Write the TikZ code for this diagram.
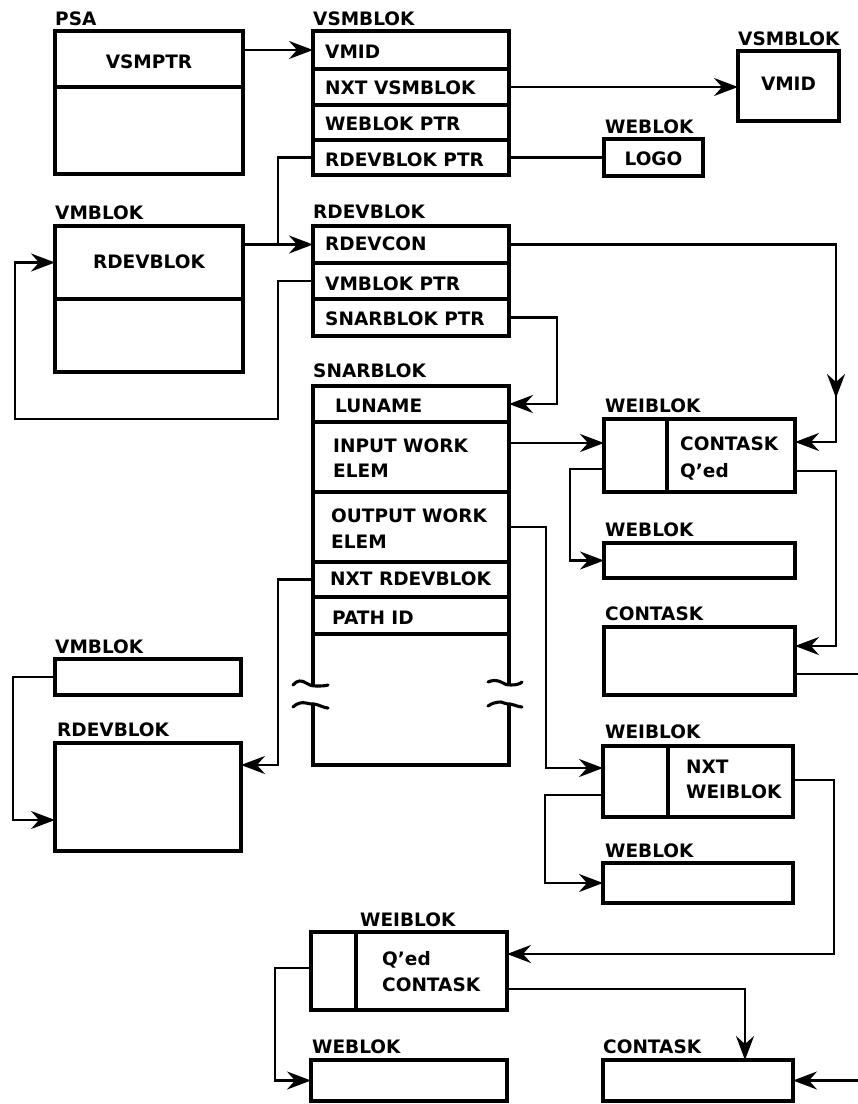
\documentclass[tikz,border=0pt]{standalone}
\usepackage{fontspec}
\setmainfont{DejaVu Sans}
\usetikzlibrary{arrows.meta,calc}
\newcommand\lbl{\fontsize{18.5}{22}\selectfont\bfseries}
\tikzset{
  box/.style={draw, line width=3.1pt, rectangle, inner sep=0pt, outer sep=0pt},
  border/.style={line width=3.1pt},
  conn/.style={line width=2.3pt},
  arr/.style={conn, -{Stealth[length=24pt,width=18pt,inset=8pt]}},
  txt/.style={anchor=base west, inner sep=0pt, font=\lbl},
  ctxt/.style={anchor=base, inner sep=0pt, font=\lbl},
}
\newcommand\bx[5]{\node[box, minimum width={#4pt-#2pt}, minimum height={#5pt-#3pt}] (#1) at ({(#2+#4)/2},{(#3+#5)/2}) {};}
\begin{document}
\begin{tikzpicture}[x=1pt,y=-1pt]
\useasboundingbox (0,0) rectangle (858,1104);
% ---------- boxes ----------
\bx{psa1}{55}{31}{243}{87}
\bx{psa2}{55}{87}{243}{174}
\bx{vs1}{313}{31}{509}{69}
\bx{vs2}{313}{69}{509}{105}
\bx{vs3}{313}{105}{509}{140}
\bx{vs4}{313}{140}{509}{175}
\bx{vsm2}{738}{51}{839}{121}
\bx{logo}{604}{139}{703}{176}
\bx{vm1}{55}{226}{243}{299}
\bx{vm2}{55}{299}{243}{372}
\bx{rd1}{313}{226}{509}{263}
\bx{rd2}{313}{263}{509}{299}
\bx{rd3}{313}{299}{509}{336}
\bx{sn1}{313}{386}{509}{422}
\bx{sn2}{313}{422}{509}{492}
\bx{sn3}{313}{492}{509}{562}
\bx{sn4}{313}{562}{509}{597}
\bx{sn5}{313}{597}{509}{634}
\node[inner sep=0pt, outer sep=0pt, minimum width=196pt, minimum height=131pt] (sn6) at (411,699.5) {};
\draw[border] (sn6.north west) -- (313,685);
\draw[border] (sn6.north east) -- (509,684);
\draw[border, line join=miter] (313,704) |- (sn6.south east) -- (509,704);
% break marks
\draw[border, line cap=round] (293,685) .. controls (297,680) and (302,680) .. (306,683) .. controls (309,685) and (312,686) .. (316,686) .. controls (321,686) and (325,686) .. (328,685);
\draw[border, line cap=round] (293,707) .. controls (297,703) and (302,702) .. (306,703) .. controls (309,704) and (311,704) .. (314,704) .. controls (320,705) and (324,708) .. (328,708);
\draw[border, line cap=round] (488,682) .. controls (492,680) and (497,680) .. (501,682) .. controls (504,684) and (507,685) .. (511,685) .. controls (516,685) and (520,684) .. (522,682);
\draw[border, line cap=round] (488,706) .. controls (492,703) and (497,702) .. (501,702) .. controls (504,703) and (506,704) .. (510,704) .. controls (515,705) and (519,707) .. (522,707);
\bx{wei1}{604}{419}{795}{492}
\draw[border] (667,419) -- (667,492);
\bx{web2}{604}{543}{795}{578}
\bx{con1}{604}{627}{795}{695}
\bx{wei2}{603}{746}{793}{817}
\draw[border] (668,746) -- (668,817);
\bx{web3}{603}{863}{793}{903}
\bx{wei3}{311}{932}{507}{1010}
\draw[border] (356,932) -- (356,1010);
\bx{web4}{311}{1060}{507}{1101}
\bx{con2}{603}{1060}{793}{1101}
\bx{vmb2}{55}{659}{241}{695}
\bx{rdv2}{55}{743}{241}{851}
% ---------- texts ----------
\node[txt] (l-psa) at (55,25) {PSA};
\node[ctxt] (t-vsmptr) at (149,68) {VSMPTR};
\node[txt] (l-vsm) at (313,25) {VSMBLOK};
\node[txt] (t-vmid) at (325,58) {VMID};
\node[txt] (t-nxtv) at (325,94) {NXT VSMBLOK};
\node[txt] (t-webp) at (325,130) {WEBLOK PTR};
\node[txt] (t-rdp) at (325,166) {RDEVBLOK PTR};
\node[txt] (l-vsm2) at (738,45) {VSMBLOK};
\node[ctxt] (t-vmid2) at (788.5,90) {VMID};
\node[txt] (l-web1) at (605,133) {WEBLOK};
\node[ctxt] (t-logo) at (653.5,165) {LOGO};
\node[txt] (l-vm) at (55,219) {VMBLOK};
\node[ctxt] (t-rdv) at (149,268) {RDEVBLOK};
\node[txt] (l-rd) at (313,218) {RDEVBLOK};
\node[txt] (t-rdc) at (325,250) {RDEVCON};
\node[txt] (t-vmp) at (325,290) {VMBLOK PTR};
\node[txt] (t-snp) at (325,325) {SNARBLOK PTR};
\node[txt] (l-sn) at (313,377) {SNARBLOK};
\node[txt] (t-lun) at (335,412) {LUNAME};
\node[txt] (t-in1) at (333,452) {INPUT WORK};
\node[txt] (t-in2) at (333,477) {ELEM};
\node[txt] (t-out1) at (331,522) {OUTPUT WORK};
\node[txt] (t-out2) at (331,548) {ELEM};
\node[txt] (t-nxr) at (330,585) {NXT RDEVBLOK};
\node[txt] (t-path) at (332,624) {PATH ID};
\node[txt] (l-wei1) at (605,412) {WEIBLOK};
\node[txt] (t-con) at (680,450) {CONTASK};
\node[txt] (t-qed) at (680,477) {Q’ed};
\node[txt] (l-web2) at (605,536) {WEBLOK};
\node[txt] (l-con1) at (605,620) {CONTASK};
\node[txt] (l-vmb2) at (55,653) {VMBLOK};
\node[txt] (l-rdv2) at (57,736) {RDEVBLOK};
\node[txt] (l-wei2) at (605,738) {WEIBLOK};
\node[txt] (t-nxt) at (686,773) {NXT};
\node[txt] (t-wei) at (686,798) {WEIBLOK};
\node[txt] (l-web3) at (605,857) {WEBLOK};
\node[txt] (l-wei3) at (360,926) {WEIBLOK};
\node[txt] (t-qed2) at (382,965) {Q’ed};
\node[txt] (t-con3) at (382,991) {CONTASK};
\node[txt] (l-web4) at (312,1053) {WEBLOK};
\node[txt] (l-con2) at (603,1053) {CONTASK};
% ---------- connectors ----------
\draw[arr] (vs1.west -| psa1.east) -- (vs1.west);
\draw[arr] (vs2.east) -- (vs2.east -| vsm2.west);
\draw[conn] (vs4.west) -| ($(vm1.east |- rd1.west)!0.5!(rd1.west)$);
\draw[conn] (vs4.east) -- (logo.west);
\draw[arr] (vm1.east |- rd1.west) -- (rd1.west);
\draw[arr] (rd2.west) -- ++(-35,0) -- ++(0,138) -| ($(vm1.west)+(-40,0)$) -- (vm1.west);
\draw[arr] (rd1.east) -| ($(wei1.north east)+(41,-21)$);
\draw[arr] ($(wei1.north east)+(41,-40)$) |- ($(wei1.north east)+(0,23)$);
\draw[arr] (rd3.east) -- ++(48,0) |- (sn1.east);
\draw[arr] ($(sn2.north east)+(0,21)$) coordinate (s2) -- (s2 -| wei1.west);
\draw[arr] (sn3.east) -- ++(37,0) |- ($(wei2.north west)+(0,22)$);
\draw[arr] (sn4.west) -- ++(-35,0) |- ($(rdv2.north east)+(0,22)$);
\draw[arr] (vmb2.west) -- ++(-42,0) |- ($(rdv2.north west)+(0,77)$);
\draw[arr] ($(wei1.north west)+(0,50)$) -- ++(-34,0) |- (web2.west);
\draw[arr] ($(wei1.north east)+(0,52)$) -- ++(41,0) |- ($(con1.north east)+(0,19)$);
\draw[conn] ($(con1.north east)+(0,47)$) -- ++(63,0);
\draw[arr] ($(wei2.north west)+(0,49)$) -- ++(-58,0) |- (web3.west);
\draw[arr] ($(wei2.north east)+(0,34)$) -- ++(41,0) |- ($(wei3.north east)+(0,22)$);
\draw[arr] ($(wei3.north west)+(0,36)$) -- ++(-36,0) |- (web4.west);
\draw[arr] ($(wei3.north east)+(0,57)$) -| ($(con2.north west)+(142,0)$);
\draw[arr] ($(con2.east)+(65,0)$) -- (con2.east);
\end{tikzpicture}
\end{document}
